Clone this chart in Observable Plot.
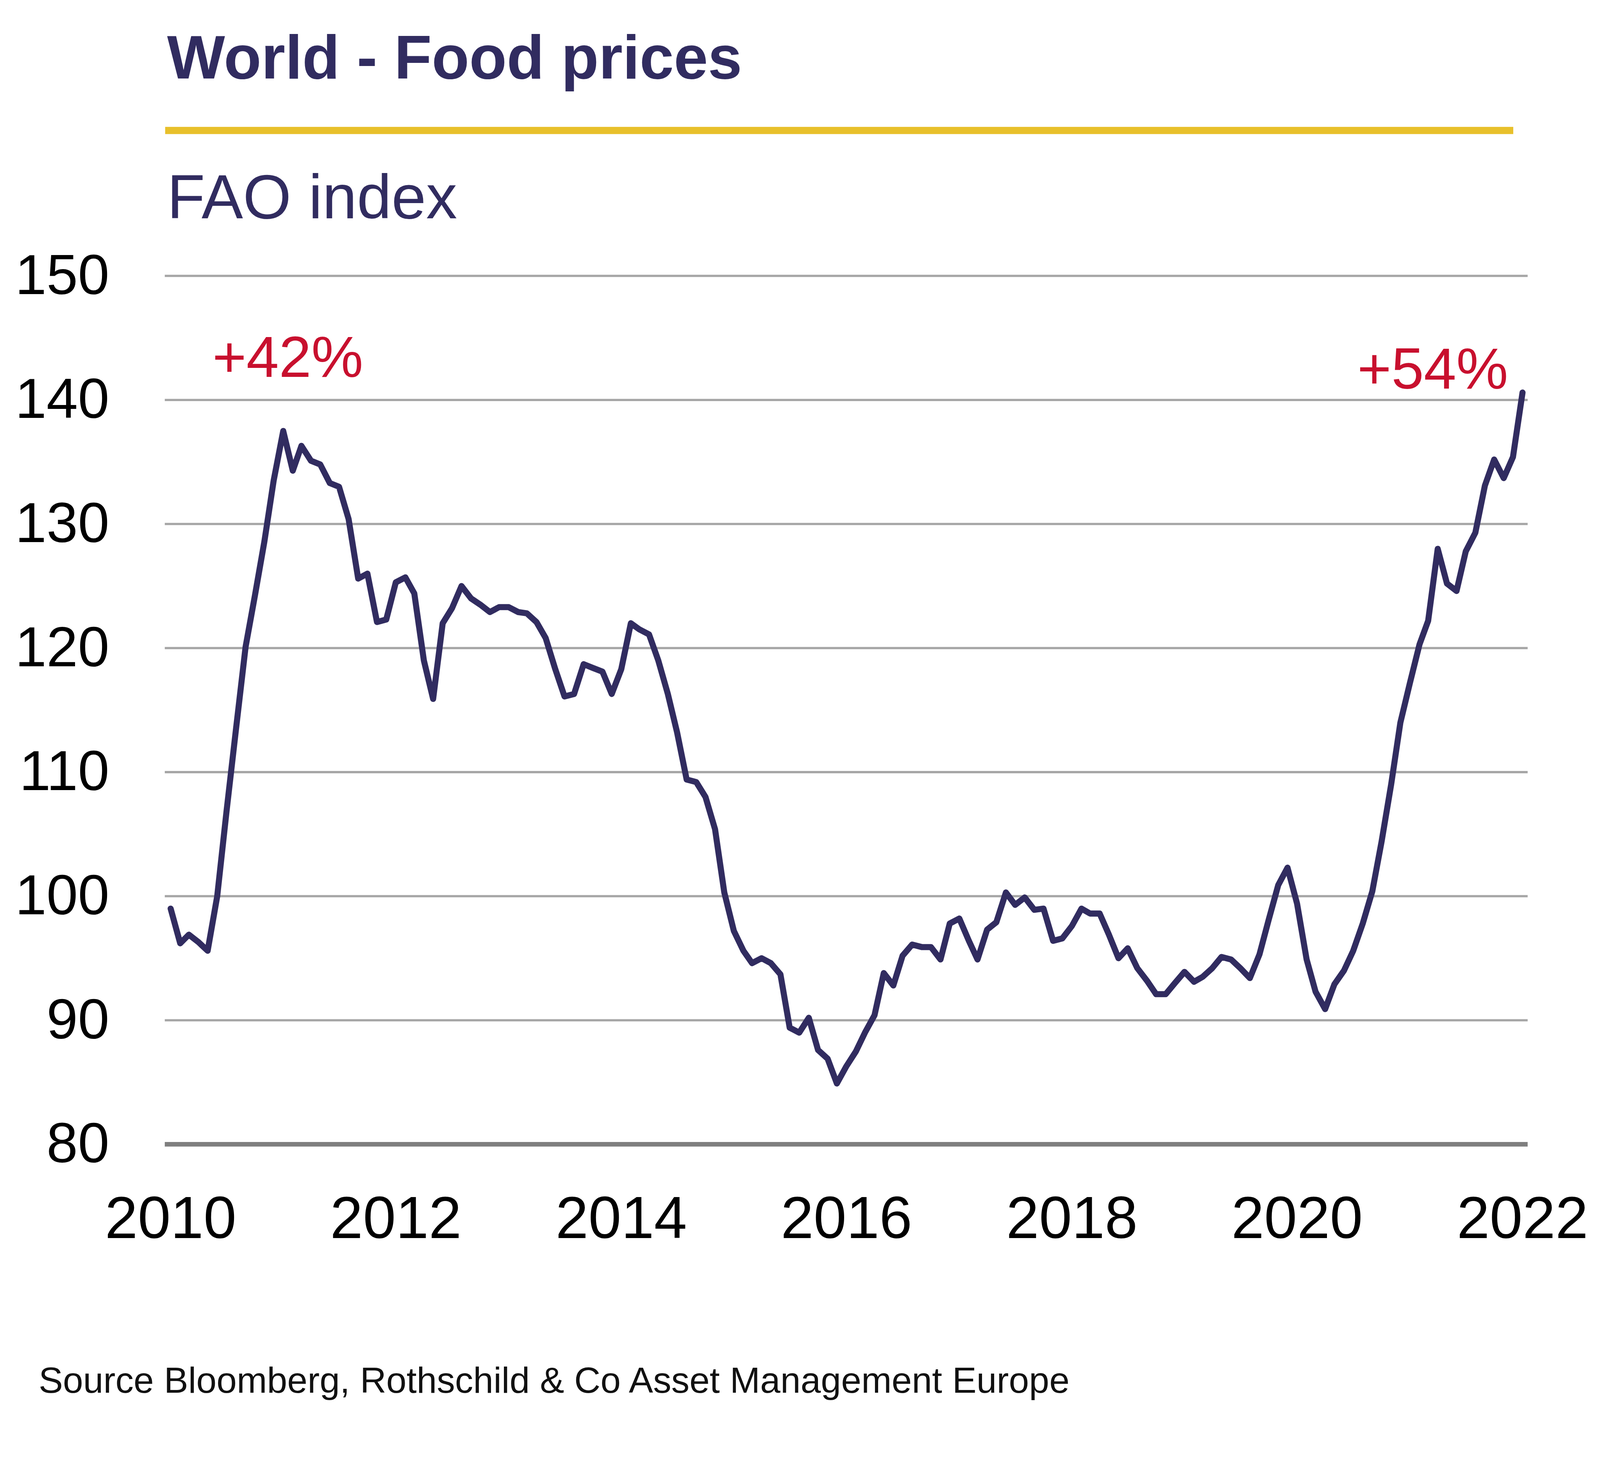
<!DOCTYPE html>
<html>
<head>
<meta charset="utf-8">
<script src="https://cdn.jsdelivr.net/npm/d3@7"></script>
<script src="https://cdn.jsdelivr.net/npm/@observablehq/plot@0.6"></script>
<style>
  html, body { margin: 0; padding: 0; background: #ffffff; overflow: hidden; }
  #wrap { position: absolute; left: 0; top: 0; width: 4224px; height: 3769px; font-family: "Liberation Sans", Arial, sans-serif; background: #fff; transform-origin: 0 0; }
  .t { position: absolute; white-space: nowrap; line-height: 1; }
</style>
</head>
<body>
<div id="wrap">
  <div class="t" id="title" style="left:441px;top:70px;font-size:162px;font-weight:bold;color:#312c60;">World - Food prices</div>
  <div style="position:absolute;left:436px;top:335px;width:3559px;height:19px;background:#e8c02b;"></div>
  <div class="t" id="subtitle" style="left:441px;top:438px;font-size:164px;color:#312c60;">FAO index</div>
  <div id="chart" style="position:absolute;left:0;top:600px;width:4224px;"></div>
  <div class="t" id="source" style="left:102px;top:3596px;font-size:96px;color:#111;">Source Bloomberg, Rothschild &amp; Co Asset Management Europe</div>
</div>
<script>
// Monthly FAO food price index, Jan 2010 .. Jan 2022
const startYear = 2010;
const values = [
  99.0, 96.2, 96.9, 96.3, 95.6, 100.0, 106.8, 113.5, 120.1, 124.2, 128.6, 133.5,
  137.5, 134.3, 136.3, 135.1, 134.8, 133.3, 133.0, 130.4, 125.6, 126.0, 122.1, 122.3,
  125.3, 125.7, 124.4, 119.0, 115.9, 122.0, 123.2, 125.0, 124.0, 123.5, 122.9, 123.3,
  123.3, 122.9, 122.8, 122.1, 120.8, 118.3, 116.1, 116.3, 118.7, 118.4, 118.1, 116.3,
  118.3, 122.0, 121.5, 121.1, 119.0, 116.3, 113.2, 109.4, 109.2, 108.0, 105.4, 100.3,
  97.2, 95.6, 94.6, 95.0, 94.6, 93.7, 89.4, 89.0, 90.2, 87.6, 86.9, 84.9,
  86.3, 87.5, 89.0, 90.4, 93.8, 92.8, 95.2, 96.1, 95.9, 95.9, 94.9, 97.8,
  98.2, 96.4, 94.9, 97.3, 97.9, 100.3, 99.3, 99.9, 98.9, 99.0, 96.4, 96.6,
  97.6, 99.0, 98.6, 98.6, 96.9, 95.0, 95.8, 94.2, 93.2, 92.1, 92.1, 93.0,
  93.9, 93.1, 93.5, 94.2, 95.1, 94.9, 94.2, 93.4, 95.3, 98.1, 100.9, 102.3,
  99.4, 94.9, 92.3, 90.9, 92.9, 94.0, 95.6, 97.8, 100.4, 104.4, 109.0, 114.0,
  117.2, 120.3, 122.2, 128.0, 125.2, 124.6, 127.8, 129.3, 133.1, 135.2, 133.7, 135.4,
  140.6
];
const yTicks = [80, 90, 100, 110, 120, 130, 140, 150];
const xTickYears = [2010, 2012, 2014, 2016, 2018, 2020, 2022];
const annotationLabels = ["+42%", "+54%"];

const navy = "#312c60";
const red = "#c8102e";

const start = new Date(Date.UTC(startYear, 0, 1));
const rows = values.map((v, i) => ({date: d3.utcMonth.offset(start, i), value: v}));
const xTicks = xTickYears.map(y => new Date(Date.UTC(y, 0, 1)));

const peakIdx = d3.maxIndex(values.slice(0, 36));
const lastIdx = values.length - 1;

const chart = Plot.plot({
  width: 4224,
  height: 2721,
  marginTop: 128,
  marginBottom: 300,
  marginLeft: 435,
  marginRight: 191,
  style: {fontFamily: "'Liberation Sans', Arial, sans-serif", background: "white", color: "black", overflow: "visible", maxWidth: "none"},
  x: {type: "utc", insetLeft: 15, insetRight: 14},
  y: {domain: [80, 150]},
  marks: [
    Plot.ruleY(yTicks.filter(v => v > 80), {stroke: "#a6a6a6", strokeWidth: 6}),
    Plot.ruleY([80], {stroke: "#7f7f7f", strokeWidth: 12}),
    Plot.axisY({ticks: yTicks, tickSize: 0, tickPadding: 147, fontSize: 149, fill: "black", label: null}),
    Plot.axisX({ticks: xTicks, tickSize: 0, tickPadding: 137, fontSize: 156, fill: "black", label: null,
                tickFormat: d => String(d.getUTCFullYear())}),
    Plot.line(rows, {x: "date", y: "value", stroke: navy, strokeWidth: 16, strokeLinejoin: "round", strokeLinecap: "round"}),
    Plot.text([rows[peakIdx]], {x: "date", y: "value", text: () => annotationLabels[0],
      dx: 12, dy: -143, lineAnchor: "bottom", textAnchor: "middle", fill: red, fontSize: 154}),
    Plot.text([rows[lastIdx]], {x: "date", y: "value", text: () => annotationLabels[1],
      dx: -38, dy: -10, lineAnchor: "bottom", textAnchor: "end", fill: red, fontSize: 154})
  ]
});
document.getElementById("chart").appendChild(chart);

// Fit the 4224-wide layout into whatever viewport the page is given
function fit() {
  const vw = document.documentElement.clientWidth || window.innerWidth || 4224;
  const s = Math.min(1, vw / 4224);
  document.getElementById("wrap").style.transform = `scale(${s})`;
}
fit();
window.addEventListener("resize", fit);
</script>
</body>
</html>
